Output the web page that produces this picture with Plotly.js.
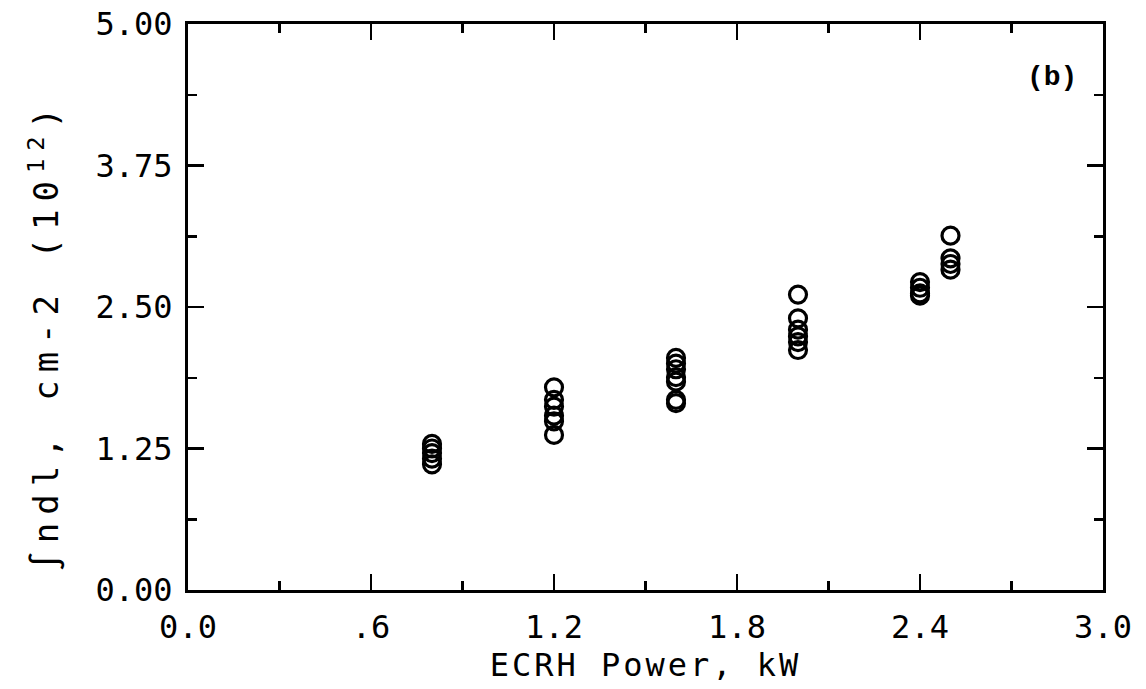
<!DOCTYPE html>
<html>
<head>
<meta charset="utf-8">
<script src="https://cdn.plot.ly/plotly-3.0.1.min.js"></script>
<style>
  html, body { margin: 0; padding: 0; background: #fff; }
  #plot { width: 1146px; height: 689px; }
  /* the plotter lettering is widely spaced */
  #plot .xtitle { letter-spacing: 3px; }
  #plot .annotation[data-index="0"] text { letter-spacing: 8px; }
</style>
</head>
<body>
<div id="plot"></div>
<script>
// ECRH power (kW) for each measurement
const powerKW = [
  0.8, 0.8, 0.8, 0.8, 0.8,
  1.2, 1.2, 1.2, 1.2, 1.2, 1.2,
  1.6, 1.6, 1.6, 1.6, 1.6, 1.6, 1.6,
  2.0, 2.0, 2.0, 2.0, 2.0, 2.0,
  2.4, 2.4, 2.4, 2.4,
  2.5, 2.5, 2.5, 2.5
];
// line-integrated density, units of 10^12 cm^-2
const lineDensity = [
  1.29, 1.25, 1.21, 1.16, 1.11,
  1.79, 1.68, 1.62, 1.54, 1.49, 1.37,
  2.05, 2.00, 1.95, 1.88, 1.84, 1.68, 1.65,
  2.61, 2.40, 2.30, 2.24, 2.19, 2.12,
  2.72, 2.67, 2.62, 2.60,
  3.13, 2.93, 2.88, 2.83
];

const xTickVals = [0, 0.6, 1.2, 1.8, 2.4, 3.0];
const xTickText = ['0.0', '.6', '1.2', '1.8', '2.4', '3.0'];
const yTickVals = [0, 1.25, 2.5, 3.75, 5.0];
const yTickText = ['0.00', '1.25', '2.50', '3.75', '5.00'];

const yTitle = '\u222Bndl, cm-2 (10<sup>12</sup>)';
const panelLabel = '(b)';

const FONT = 'DejaVu Sans Mono, monospace';

const trace = {
  x: powerKW,
  y: lineDensity,
  type: 'scatter',
  mode: 'markers',
  marker: {
    symbol: 'circle-open',
    size: 17,
    color: '#000',
    line: { color: '#000', width: 3.2 }
  },
  hoverinfo: 'x+y'
};

const axisCommon = {
  showgrid: false,
  zeroline: false,
  showline: true,
  linecolor: '#000',
  linewidth: 3,
  mirror: 'allticks',
  ticks: 'inside',
  ticklen: 16,
  tickwidth: 2.5,
  tickcolor: '#000',
  tickfont: { family: FONT, size: 32, color: '#000' }
};

const layout = {
  width: 1146,
  height: 689,
  paper_bgcolor: '#fff',
  plot_bgcolor: '#fff',
  showlegend: false,
  margin: { l: 188, r: 43, t: 24, b: 99 },
  xaxis: Object.assign({}, axisCommon, {
    range: [0, 3.0],
    tickmode: 'array',
    tickvals: xTickVals,
    ticktext: xTickText,
    ticklabelstandoff: 7,
    minor: { dtick: 0.3, tick0: 0, ticks: 'inside', ticklen: 9, tickwidth: 2.5, tickcolor: '#000', showgrid: false },
    title: { text: 'ECRH Power, kW', font: { family: FONT, size: 32, color: '#000' }, standoff: 4 }
  }),
  yaxis: Object.assign({}, axisCommon, {
    range: [0, 5.0],
    tickmode: 'array',
    tickvals: yTickVals,
    ticktext: yTickText,
    ticklabelstandoff: 6,
    minor: { dtick: 0.625, tick0: 0, ticks: 'inside', ticklen: 9, tickwidth: 2.5, tickcolor: '#000', showgrid: false }
  }),
  annotations: [
    {
      // rotated y-axis title, placed a little below the axis middle
      xref: 'paper', yref: 'paper',
      x: -0.157, y: 0.45,
      xanchor: 'center', yanchor: 'middle',
      textangle: -90,
      text: yTitle,
      showarrow: false,
      font: { family: FONT, size: 34, color: '#000' }
    },
    {
      xref: 'paper', yref: 'paper',
      x: 0.944, y: 0.905,
      xanchor: 'center', yanchor: 'middle',
      text: '<b>' + panelLabel + '</b>',
      showarrow: false,
      font: { family: 'Liberation Mono, monospace', size: 28, color: '#000' }
    }
  ]
};

Plotly.newPlot('plot', [trace], layout, { displayModeBar: false, staticPlot: true });
</script>
</body>
</html>
